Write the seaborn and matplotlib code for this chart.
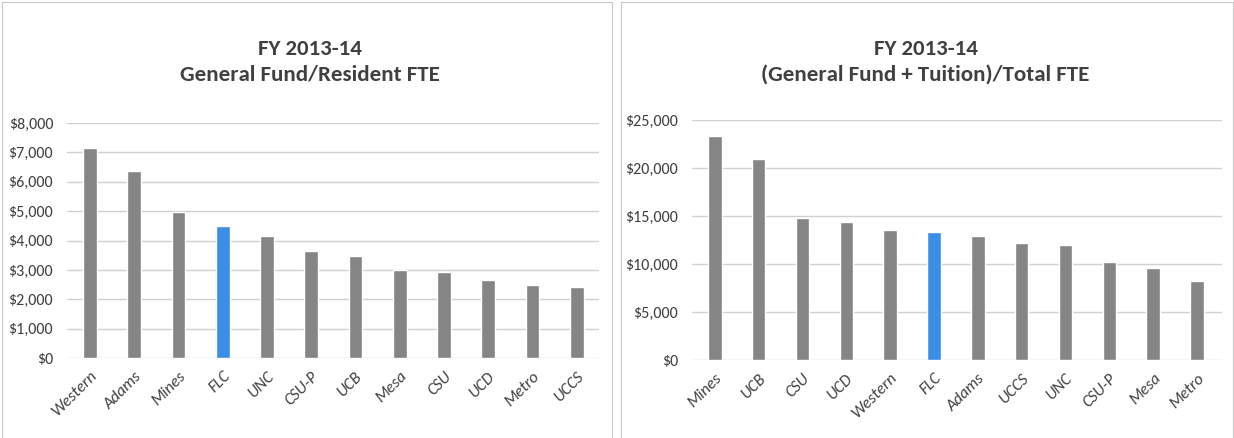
import numpy as np
import pandas as pd
import matplotlib as mplt
mplt.use("Agg")
import matplotlib.pyplot as plt
import seaborn as sns
from matplotlib.ticker import FuncFormatter
from matplotlib import font_manager

sns.set_style("white")

# Calibri-like font if there is one, else something narrow
names = set(f.name for f in font_manager.fontManager.ttflist)
font = "DejaVu Sans"
for cand in ["Carlito", "PT Sans Narrow", "Roboto Condensed", "Liberation Sans Narrow"]:
    if cand in names:
        font = cand
        break
plt.rcParams['font.family'] = [font, 'DejaVu Sans']

left_schools = ["Western", "Adams", "Mines", "FLC", "UNC", "CSU-P", "UCB", "Mesa", "CSU", "UCD", "Metro", "UCCS"]
left_values = [7150, 6360, 4960, 4480, 4170, 3640, 3460, 2990, 2920, 2670, 2480, 2410]

right_schools = ["Mines", "UCB", "CSU", "UCD", "Western", "FLC", "Adams", "UCCS", "UNC", "CSU-P", "Mesa", "Metro"]
right_values = [23350, 20900, 14760, 14340, 13520, 13380, 12970, 12170, 11960, 10220, 9620, 8240]

left_title = "FY 2013-14\nGeneral Fund/Resident FTE"
right_title = "FY 2013-14\n(General Fund + Tuition)/Total FTE"

grey = "#858585"
blue = "#3a8ee6"

fig = plt.figure(figsize=(12.34, 4.38), dpi=100)

# panel borders
for x0, x1 in [(0.002, 0.496), (0.503, 0.999)]:
    fig.add_artist(plt.Line2D([x0, x1], [0.995, 0.995], color="#c8c8c8", lw=0.8))
    fig.add_artist(plt.Line2D([x0, x0], [0.0, 0.995], color="#c8c8c8", lw=0.8))
    fig.add_artist(plt.Line2D([x1, x1], [0.0, 0.995], color="#c8c8c8", lw=0.8))


def panel(rect, schools, values, ymax, step, xlim, title, title_x):
    ax = fig.add_axes(rect)
    df = pd.DataFrame({'school': schools, 'value': values})
    df['kind'] = ['flc' if s == 'FLC' else 'other' for s in schools]
    sns.barplot(df, x='school', y='value', hue='kind', palette={'flc': blue, 'other': grey},
                width=0.31, dodge=False, legend=False, ax=ax, saturation=1)
    ax.set_ylim(0, ymax)
    ax.set_xlim(*xlim)
    ax.set_yticks(np.arange(0, ymax + 1, step))
    ax.yaxis.set_major_formatter(FuncFormatter(lambda v, p: "${:,.0f}".format(v)))
    ax.grid(axis='y', color="#d0d0d0", lw=1.0)
    ax.set_axisbelow(True)
    sns.despine(ax=ax, left=True, bottom=True)
    ax.set_xlabel(None)
    ax.set_ylabel(None)
    ax.tick_params(axis='y', length=0, labelsize=11.5, labelcolor="#404040", pad=10)
    ax.tick_params(axis='x', length=0, labelsize=12, labelcolor="#404040", pad=8)
    for lab in ax.get_xticklabels():
        lab.set_rotation(45)
        lab.set_ha('right')
        lab.set_rotation_mode('anchor')
        lab.set_style('italic')
    fig.text(title_x, 0.858, title, ha='center', va='center', fontsize=16.5,
             fontweight='bold', color="#404040", linespacing=1.35)
    return ax


panel([0.0543, 0.1826, 0.4311, 0.5365], left_schools, left_values, 8000, 1000,
      (-0.52, 11.5), left_title, 0.251)
panel([0.5608, 0.178, 0.4295, 0.548], right_schools, right_values, 25000, 5000,
      (-0.52, 11.57), right_title, 0.750)

plt.savefig("out.png", dpi=100)
